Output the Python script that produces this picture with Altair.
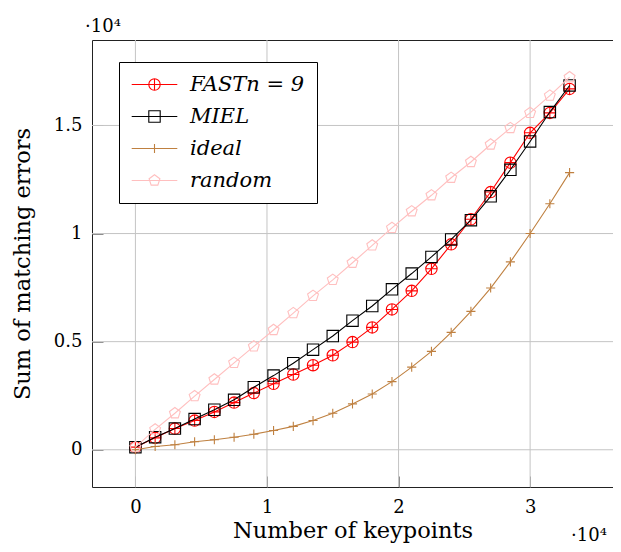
import altair as alt
import pandas as pd

# ---- data ----
keypoints = [0, 1500, 3000, 4500, 6000, 7500, 9000, 10500, 12000, 13500, 15000,
             16500, 18000, 19500, 21000, 22500, 24000, 25500, 27000, 28500,
             30000, 31500, 33000]
fast = [120, 550, 980, 1350, 1750, 2180, 2620, 3050, 3480, 3910, 4370, 4980,
        5660, 6490, 7350, 8370, 9500, 10660, 11920, 13280, 14660, 15580, 16690]
miel = [120, 580, 980, 1420, 1850, 2310, 2890, 3430, 4000, 4630, 5260, 5970,
        6650, 7420, 8150, 8920, 9730, 10620, 11720, 12950, 14260, 15620, 16850]
ideal = [0, 150, 230, 370, 460, 580, 720, 890, 1080, 1350, 1690, 2120, 2580,
         3150, 3820, 4550, 5430, 6400, 7480, 8690, 10000, 11380, 12820]
random_ = [120, 940, 1690, 2480, 3250, 4020, 4780, 5540, 6320, 7120, 7860, 8650,
           9450, 10260, 11030, 11770, 12580, 13310, 14120, 14880, 15580, 16380, 17230]

series_names = ["FASTn = 9", "MIEL", "ideal", "random"]
series_values = [fast, miel, ideal, random_]
series_colors = ["#ff0000", "#000000", "#bf8040", "#ffbfbf"]

x_ticks = [0, 10000, 20000, 30000]
y_ticks = [0, 5000, 10000, 15000]
multiplier = ["·10⁴"]

# marker paths (unit square) for plot and legend
plot_paths = [
    "M-1,0A1,1,0,1,1,1,0A1,1,0,1,1,-1,0ZM-1,0H1M0,-1V1",
    "M-1,-1H1V1H-1Z",
    "M-0.8,0H0.8M0,-0.8V0.8",
    "M0,-1L0.951,-0.309L0.588,0.809L-0.588,0.809L-0.951,-0.309Z",
]
legend_paths = ["M-4,0H4" + p for p in plot_paths]

rows = []
for name, vals in zip(series_names, series_values):
    for k, v in zip(keypoints, vals):
        rows.append({"series": name, "k": k, "e": v})
df = pd.DataFrame(rows)

FONT = "DejaVu Serif"

xs = alt.Scale(domain=[-3300, 36300], nice=False, zero=False)
ys = alt.Scale(domain=[-1723, 18953], nice=False, zero=False)

xaxis = alt.Axis(values=x_ticks, labelExpr="datum.value/10000 + ''", grid=False,
                 domain=False, tickSize=11, offset=-11, tickColor="#8c8c8c",
                 tickWidth=1, labelPadding=11, labelFont=FONT, labelFontSize=18,
                 labelColor="black", title="Number of keypoints", titleFont=FONT,
                 titleFontSize=22.5, titleFontWeight="normal", titleColor="black",
                 titlePadding=3)
yaxis = alt.Axis(values=y_ticks, labelExpr="datum.value/10000 + ''", grid=False,
                 domain=False, tickSize=11, offset=-11, tickColor="#8c8c8c",
                 tickWidth=1, labelPadding=10, labelFont=FONT, labelFontSize=18,
                 labelColor="black", title="Sum of matching errors", titleFont=FONT,
                 titleFontSize=22.5, titleFontWeight="normal", titleColor="black",
                 titlePadding=19)

X = alt.X("k:Q", scale=xs, axis=xaxis)
Y = alt.Y("e:Q", scale=ys, axis=yaxis)

xgrid = alt.Chart(pd.DataFrame({"k": x_ticks})).mark_rule(color="#c4c4c4", strokeWidth=1).encode(x=X)
ygrid = alt.Chart(pd.DataFrame({"e": y_ticks})).mark_rule(color="#c4c4c4", strokeWidth=1).encode(y=Y)

layers = [xgrid, ygrid]
for name, color, path in zip(series_names, series_colors, plot_paths):
    base = alt.Chart(df).transform_filter(alt.datum.series == name)
    layers.append(base.mark_line(color=color, strokeWidth=1.1).encode(x=X, y=Y))
    layers.append(base.mark_point(shape=path, color=color, size=130, filled=False,
                                  opacity=1, strokeWidth=1.1).encode(x=X, y=Y))

LEG = alt.Legend(title=None, orient="none", legendX=27, legendY=22, padding=12,
                 rowPadding=10, symbolSize=130, symbolStrokeWidth=1.1,
                 symbolOffset=13, labelOffset=25, labelFont=FONT, labelFontSize=21,
                 labelFontStyle="italic", labelColor="black", strokeColor="black",
                 fillColor="white",
                 labelExpr="datum.label == 'FASTn = 9' ? datum.label + '\u00a0\u00a0\u00a0' : datum.label")

legend_layer = alt.Chart(df).transform_filter("false").mark_point(
    filled=False, opacity=1, strokeWidth=1.1).encode(
    x=X, y=Y,
    color=alt.Color("series:N", scale=alt.Scale(domain=series_names, range=series_colors), legend=LEG),
    shape=alt.Shape("series:N", scale=alt.Scale(domain=series_names, range=legend_paths), legend=LEG),
)
layers.append(legend_layer)

mdf = pd.DataFrame({"t": multiplier})
top_mult = alt.Chart(mdf).mark_text(align="left", baseline="alphabetic", font=FONT,
                                    fontSize=18, color="black").encode(
    x=alt.value(-7), y=alt.value(-8), text="t:N")
bot_mult = alt.Chart(mdf).mark_text(align="left", baseline="alphabetic", font=FONT,
                                    fontSize=18, color="black").encode(
    x=alt.value(479), y=alt.value(501), text="t:N")
layers += [top_mult, bot_mult]

chart = alt.layer(*layers).properties(
    width=521, height=447,
    padding={"left": 84, "top": 32, "right": 0, "bottom": 57},
    autosize=alt.AutoSizeParams(type="none"),
).configure_view(stroke="#222222", strokeWidth=1)

chart.save("out.html", embed_options={"renderer": "svg", "actions": False})
